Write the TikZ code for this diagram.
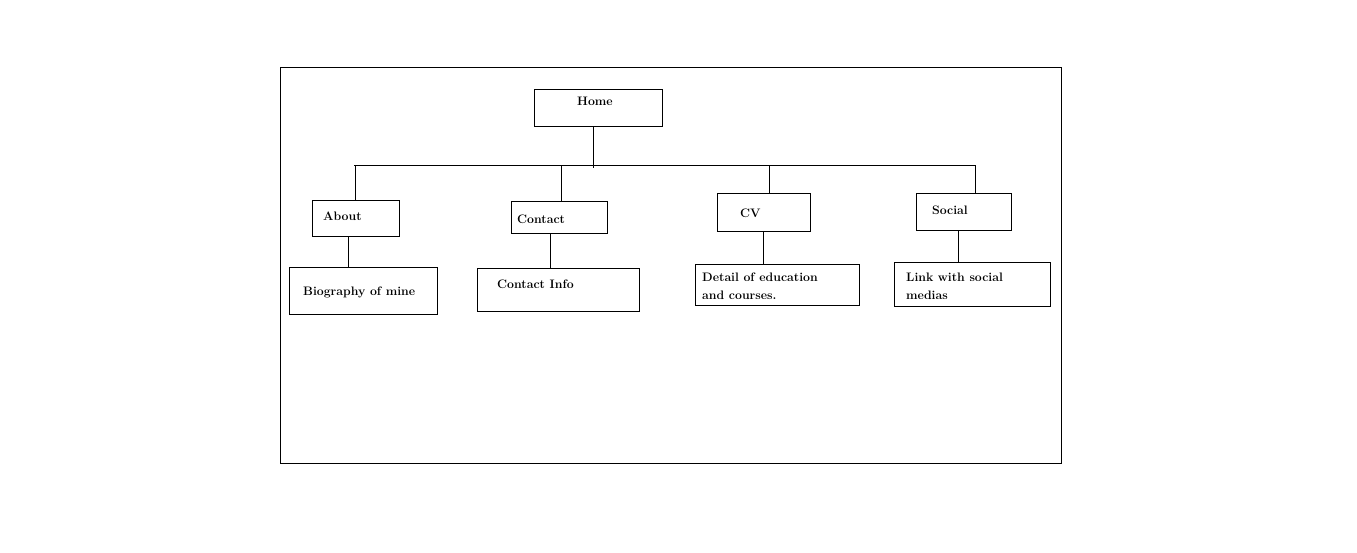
\documentclass[tikz,border=0pt]{standalone}
\begin{document}
\begin{tikzpicture}[x=1pt,y=-1pt,
  box/.style={draw,line width=1pt,inner sep=0pt,minimum width=#1},
  lbl/.style={anchor=west,inner sep=0pt,font=\fontsize{12.3}{18}\selectfont\bfseries,align=left},
  conn/.style={line width=1pt}]
\useasboundingbox (0,0) rectangle (1357,552);
% frame
\node[draw,line width=1pt,minimum width=781pt,minimum height=396pt,inner sep=0pt] (frame) at (670.5,265) {};
% boxes
\node[box=128pt,minimum height=37pt] (home) at (598,107.5) {};
\node[box=87pt,minimum height=36pt] (about) at (355.5,218) {};
\node[box=148pt,minimum height=47pt] (bio) at (363,290.5) {};
\node[box=96pt,minimum height=32pt] (contact) at (559,217) {};
\node[box=162pt,minimum height=43pt] (cinfo) at (558,289.5) {};
\node[box=93pt,minimum height=38pt] (cv) at (763.5,212) {};
\node[box=164pt,minimum height=41pt] (detail) at (777,284.5) {};
\node[box=95pt,minimum height=37pt] (social) at (963.5,211.5) {};
\node[box=156pt,minimum height=44pt] (link) at (972,284) {};
% labels
\node[lbl] (thome) at (577,101) {Home};
\node[lbl] (tabout) at (323,216) {About};
\node[lbl] (tbio) at (303,292) {Biography of mine};
\node[lbl] (tcontact) at (517,219) {Contact};
\node[lbl] (tcinfo) at (497,284) {Contact Info};
\node[lbl] (tcv) at (740,213) {CV};
\node[lbl] (tdetail) at (702,286) {Detail of education\\and courses.};
\node[lbl] (tsocial) at (932,210) {Social};
\node[lbl] (tlink) at (906,286) {Link with social\\medias};
% bus
\coordinate (bl) at (354,165);
\coordinate (br) at (976,165);
\coordinate (hb) at (593,168);
\coordinate (b1) at (355,165);
\coordinate (b2) at (561,165);
\coordinate (b3) at (769,165);
\coordinate (b4) at (975,165);
\draw[conn] (bl) -- (br);
\draw[conn] (home.south -| hb) -- (hb);
\draw[conn] (b1) -- (b1 |- about.north);
\draw[conn] (b2) -- (b2 |- contact.north);
\draw[conn] (b3) -- (b3 |- cv.north);
\draw[conn] (b4) -- (b4 |- social.north);
% children
\draw[conn] (about.south -| 348,0) -- (bio.north -| 348,0);
\draw[conn] (contact.south -| 550,0) -- (cinfo.north -| 550,0);
\draw[conn] (cv.south -| 763,0) -- (detail.north -| 763,0);
\draw[conn] (social.south -| 958,0) -- (link.north -| 958,0);
\end{tikzpicture}
\end{document}
